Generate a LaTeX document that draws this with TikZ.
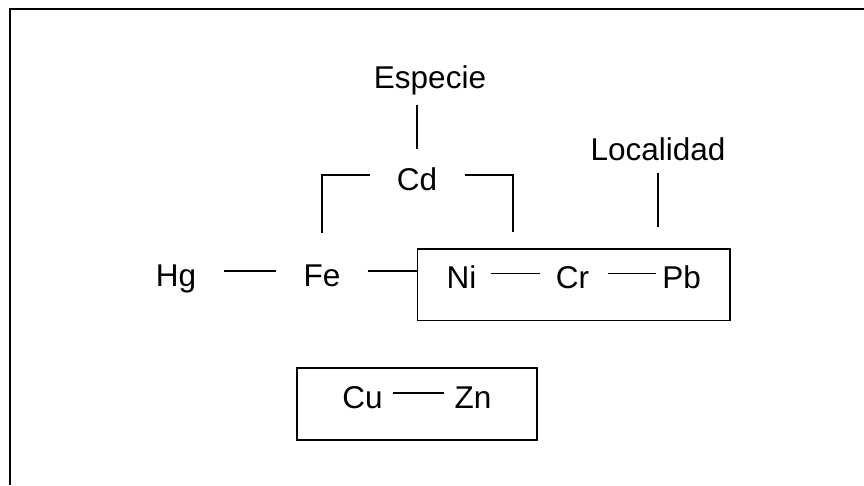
\documentclass[tikz,border=0pt]{standalone}
\usepackage{fontspec}
\setmainfont{Liberation Sans}
\begin{document}
\begin{tikzpicture}[x=1pt,y=-1pt,
  lab/.style={inner sep=0pt,text height=30pt,text depth=0pt,anchor=base,
    font=\fontsize{31.5}{36}\selectfont},
  ln/.style={line width=1.7pt},
  grp/.style={draw,line width=1.7pt,inner sep=0pt}]
\useasboundingbox (0,0) rectangle (864,485);
\draw[line width=2pt] (864,9) -- (10,9) -- (10,485);
% text nodes
\node[lab] (esp) at (430,88.5) {Especie};
\node[lab] (cd)  at (417,190) {Cd};
\node[lab] (loc) at (658,160.3) {Localidad};
\node[lab] (hg)  at (176,286) {Hg};
\node[lab] (fe)  at (322,286) {Fe};
\node[lab] (ni)  at (461.5,288.5) {Ni};
\node[lab] (cr)  at (572.5,288.5) {Cr};
\node[lab] (pb)  at (681.7,288.5) {Pb};
\node[lab] (cu)  at (362.5,408.3) {Cu};
\node[lab] (zn)  at (473,408.3) {Zn};
% group boxes
\node[grp,minimum width=312.5pt,minimum height=71.5pt] (box) at (573.75,284.75) {};
\node[grp,minimum width=239.4pt,minimum height=71.7pt] (box2) at (417,404.15) {};
% connectors
\draw[ln] ([yshift=11]cd.north) -- ([yshift=-16.5]esp.south -| cd.north);
\draw[ln] ([xshift=-27]cd.west) -| ([yshift=23.3]fe.north);
\coordinate (cdr) at ([yshift=16.3]box.north -| 513.3,0);
\draw[ln] ([xshift=28]cd.east) -| (cdr);
\draw[ln] ([yshift=-12.7]loc.south) -- ([yshift=20.7]loc.south |- box.north);
\draw[ln] ([xshift=28]hg.east) -- ([xshift=-27]fe.west);
\draw[ln] ([xshift=27]fe.east) -- (fe.east -| box.west);
\draw[ln] ([xshift=14]ni.east) -- ([xshift=-16]cr.west);
\draw[ln] ([xshift=19]cr.east) -- ([xshift=-6]pb.west);
\draw[ln] ([xshift=10]cu.east) -- ([xshift=-10.5]zn.west);
\end{tikzpicture}
\end{document}
